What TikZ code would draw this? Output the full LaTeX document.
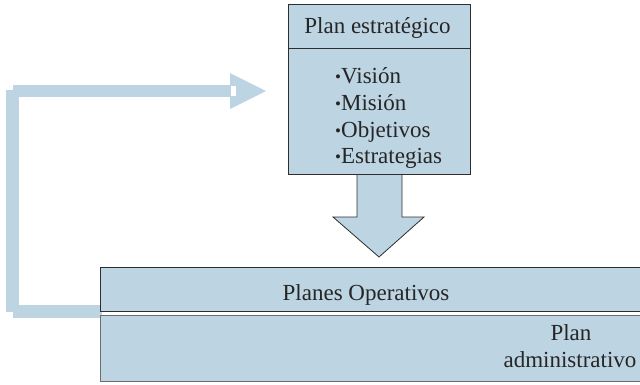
\documentclass[tikz,border=0pt]{standalone}
\usepackage{fontspec}
\setmainfont{Liberation Serif}
\definecolor{pale}{HTML}{BDD4E2}
\definecolor{edge}{HTML}{2E2E2E}
\definecolor{edgegray}{HTML}{6E6E6E}
\newcommand{\bul}{\raisebox{0.5pt}{\fontsize{17}{17}\selectfont •}}
\begin{document}
\begin{tikzpicture}[x=1pt,y=-1pt,
  box/.style={draw=edge, fill=pale, line width=0.8pt, inner sep=0pt},
  boxb/.style={draw=edgegray, fill=pale, line width=0.8pt, inner sep=0pt},
  lbl/.style={font=\fontsize{23}{27}\selectfont, inner sep=0pt, text=black!85},
  band/.style={fill=pale}]
\useasboundingbox (0,0) rectangle (640,384);
\clip (0,0) rectangle (640,384);
% feedback connector
\fill[band] (6,90) rectangle (19,312);
\fill[band] (13,305) rectangle (102,318);
\fill[band] (13,85) rectangle (231,97);
\fill[band] (230,73) -- (266,91) -- (230,109) -- cycle;
\fill[white] (231,86) rectangle (236,96);
% down arrow
\draw[box] (357,170) -- (357,217) -- (333,217) -- (379,257) -- (424,217) -- (402,217) -- (402,170);
% plan estrategico
\node[box, minimum width=182, minimum height=44] (ps) at (379,26) {};
\node[box, minimum width=182, minimum height=126] (body) at (379,111) {};
\node[lbl, anchor=base] (pst) at (377.5,33) {Plan estratégico};
\node[lbl, anchor=base west] (b1) at (335,83) {\bul Visión};
\node[lbl, anchor=base west] (b2) at (335,110) {\bul Misión};
\node[lbl, anchor=base west] (b3) at (335,137) {\bul Objetivos};
\node[lbl, anchor=base west] (b4) at (335,163) {\bul Estrategias};
% planes operativos
\node[box, minimum width=600, minimum height=44, anchor=north west] (po) at (100,267) {};
\node[boxb, minimum width=600, minimum height=66, anchor=north west] (pa) at (100,315) {};
\node[lbl, anchor=base] (pot) at (366,300) {Planes Operativos};
\node[lbl, anchor=base] (pa1) at (571,340) {Plan};
\node[lbl, anchor=base] (pa2) at (570,367) {administrativo};
\end{tikzpicture}
\end{document}
